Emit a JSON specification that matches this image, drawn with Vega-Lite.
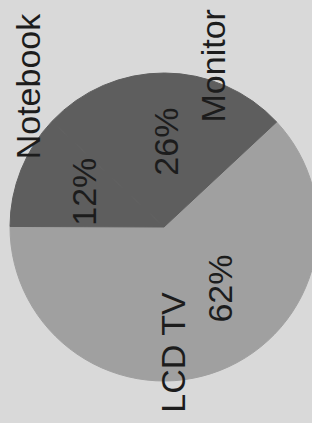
{
  "$schema": "https://vega.github.io/schema/vega-lite/v6.json",
  "width": 296,
  "height": 392,
  "autosize": "none",
  "padding": {"left": 16, "top": 31, "right": 0, "bottom": 0},
  "background": "#d9d9d9",
  "view": {"stroke": null},
  "data": {
    "values": [
      {"category": "LCD TV", "share": 62, "label": "62%"},
      {"category": "Notebook", "share": 12, "label": "12%"},
      {"category": "Monitor", "share": 26, "label": "26%"}
    ]
  },
  "encoding": {
    "theta": {
      "field": "share",
      "type": "quantitative",
      "stack": true,
      "scale": {"domain": [0, 100], "range": [4.7159, 10.9991]}
    },
    "order": {"field": "category", "sort": "descending"},
    "detail": {"field": "category"}
  },
  "layer": [
    {
      "mark": {"type": "arc", "radius": 154, "strokeWidth": 1},
      "encoding": {
        "color": {
          "field": "category",
          "type": "nominal",
          "scale": {"domain": ["LCD TV", "Notebook", "Monitor"], "range": ["#a0a0a0", "#5e5e5e", "#5e5e5e"]},
          "legend": null
        },
        "stroke": {
          "field": "category",
          "type": "nominal",
          "scale": {"domain": ["LCD TV", "Notebook", "Monitor"], "range": ["#a0a0a0", "#5e5e5e", "#5e5e5e"]},
          "legend": null
        }
      }
    },
    {
      "mark": {"type": "text", "radius": 85.5, "thetaOffset": 0.045, "angle": 270, "fontSize": 34, "font": "Liberation Sans", "align": "center", "baseline": "middle", "fill": "#1c1c1c"},
      "encoding": {
        "text": {"condition": {"test": "datum.category !== 'LCD TV'", "field": "label"}, "value": ""}
      }
    },
    {
      "mark": {"type": "text", "radius": 84.5, "thetaOffset": -0.382, "angle": 270, "fontSize": 34, "font": "Liberation Sans", "align": "center", "baseline": "middle", "fill": "#1c1c1c"},
      "encoding": {
        "text": {"condition": {"test": "datum.category === 'LCD TV'", "field": "label"}, "value": ""}
      }
    },
    {
      "mark": {"type": "text", "radius": 126, "thetaOffset": 0.286, "angle": 270, "fontSize": 34, "font": "Liberation Sans", "align": "center", "baseline": "middle", "fill": "#1c1c1c"},
      "encoding": {
        "text": {"condition": {"test": "datum.category === 'LCD TV'", "field": "category"}, "value": ""}
      }
    },
    {
      "mark": {"type": "text", "radius": 194, "thetaOffset": 0.429, "angle": 270, "fontSize": 34, "font": "Liberation Sans", "align": "center", "baseline": "middle", "fill": "#1c1c1c"},
      "encoding": {
        "text": {"condition": {"test": "datum.category === 'Notebook'", "field": "category"}, "value": ""}
      }
    },
    {
      "mark": {"type": "text", "radius": 169, "thetaOffset": 0.302, "angle": 270, "fontSize": 34, "font": "Liberation Sans", "align": "center", "baseline": "middle", "fill": "#1c1c1c"},
      "encoding": {
        "text": {"condition": {"test": "datum.category === 'Monitor'", "field": "category"}, "value": ""}
      }
    }
  ]
}
